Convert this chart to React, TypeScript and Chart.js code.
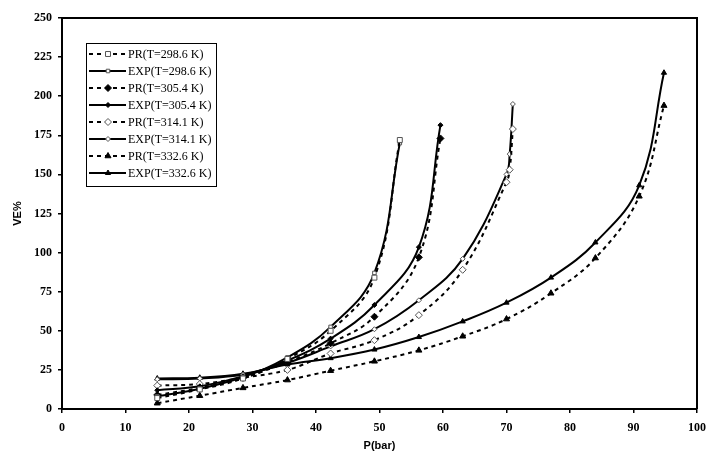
import { useEffect, useRef } from "react"
import { Chart, registerables } from "chart.js"
import { drawPoint } from "chart.js/helpers"

Chart.register(...registerables)

// pressures (bar) and VE% per temperature
const P_298 = [15, 21.7, 28.5, 35.5, 42.3, 49.2, 53.2]
const PR_298 = [7, 12.5, 19.5, 32, 50, 84, 172]
const EXP_298 = [8, 13, 20.5, 33, 52.5, 87, 170]

const P_305 = [15, 21.7, 28.5, 35.5, 42.3, 49.2, 56.2, 59.6]
const PR_305 = [9, 13.5, 20, 30, 42, 59, 97, 173]
const EXP_305 = [12, 14.5, 21, 31, 45, 66.5, 103.5, 181.5]

const P_314 = [15, 21.7, 28.5, 35.5, 42.3, 49.2, 56.2, 63.1, 70.0, 70.5, 71.0]
const PR_314 = [15, 16, 20, 25, 35.5, 44, 60, 89, 145, 153, 179]
const EXP_314 = [19, 19.5, 22, 29.5, 40, 51, 69.5, 96, 150, 163, 195]

const P_332 = [15, 21.7, 28.5, 35.5, 42.3, 49.2, 56.2, 63.1, 70.0, 77.0, 84.0, 90.9, 94.8]
const PR_332 = [3.7, 8.5, 13.5, 18.5, 24.5, 30.5, 37.5, 46.5, 57.5, 74, 96.5, 136, 194]
const EXP_332 = [19.5, 20, 22.5, 28.5, 32.5, 38, 46, 56, 68, 84, 106.5, 143, 215]

const X_TICKS = [0, 10, 20, 30, 40, 50, 60, 70, 80, 90, 100]
const Y_TICKS = [0, 25, 50, 75, 100, 125, 150, 175, 200, 225, 250]

const SERIF = '"Liberation Serif", "Times New Roman", serif'
const SANS = 'Arial, "Liberation Sans", sans-serif'

const pts = (xs: number[], ys: number[]) => xs.map((x, i) => ({ x, y: ys[i] }))

function series(label: string, xs: number[], ys: number[], dashed: boolean, style: string, filled: boolean, radius: number) {
  return {
    label,
    data: pts(xs, ys),
    borderColor: "#000",
    borderWidth: 2,
    borderDash: dashed ? [4, 4] : [],
    pointStyle: style,
    pointRadius: radius,
    pointBorderWidth: 1,
    pointBackgroundColor: filled ? "#000" : "#fff",
    pointBorderColor: filled ? "#000" : "#555",
    tension: 0.4,
    fill: false,
  }
}

const frame = {
  id: "frame",
  afterDraw(chart: any) {
    const { ctx, chartArea: a } = chart
    ctx.save()
    ctx.strokeStyle = "#000"
    ctx.lineWidth = 2
    ctx.beginPath()
    ctx.moveTo(a.left, a.top)
    ctx.lineTo(a.right, a.top)
    ctx.lineTo(a.right, a.bottom)
    ctx.stroke()
    ctx.restore()
  },
}

const boxLegend = {
  id: "boxLegend",
  afterDraw(chart: any) {
    const ctx = chart.ctx
    ctx.save()
    ctx.fillStyle = "#fff"
    ctx.fillRect(86, 43, 130, 143)
    ctx.strokeStyle = "#000"
    ctx.lineWidth = 1
    ctx.strokeRect(86.5, 43.5, 130, 143)
    chart.data.datasets.forEach((ds: any, i: number) => {
      const y = 54 + i * 17
      ctx.beginPath()
      ctx.setLineDash(ds.borderDash)
      ctx.lineWidth = ds.borderWidth
      ctx.strokeStyle = "#000"
      ctx.moveTo(89, y)
      ctx.lineTo(126, y)
      ctx.stroke()
      ctx.setLineDash([])
      ctx.fillStyle = ds.pointBackgroundColor
      ctx.strokeStyle = ds.pointBorderColor
      ctx.lineWidth = 1
      drawPoint(ctx, { pointStyle: ds.pointStyle, radius: ds.pointRadius, rotation: 0, borderWidth: 1 }, 108, y)
      ctx.fillStyle = "#000"
      ctx.font = "12px " + SERIF
      ctx.textBaseline = "middle"
      ctx.textAlign = "left"
      ctx.fillText(ds.label, 128, y + 1)
    })
    ctx.restore()
  },
}

export default function App() {
  const canvasRef = useRef<HTMLCanvasElement>(null)
  const chartRef = useRef<Chart | null>(null)

  useEffect(() => {
    if (!canvasRef.current) return
    if (chartRef.current) chartRef.current.destroy()

    chartRef.current = new Chart(canvasRef.current, {
      type: "line",
      data: {
        datasets: [
          series("PR(T=298.6 K)", P_298, PR_298, true, "rect", false, 3.5),
          series("EXP(T=298.6 K)", P_298, EXP_298, false, "rect", false, 2.5),
          series("PR(T=305.4 K)", P_305, PR_305, true, "rectRot", true, 3.5),
          series("EXP(T=305.4 K)", P_305, EXP_305, false, "rectRot", true, 2.5),
          series("PR(T=314.1 K)", P_314, PR_314, true, "rectRot", false, 3.5),
          series("EXP(T=314.1 K)", P_314, EXP_314, false, "rectRot", false, 2.5),
          series("PR(T=332.6 K)", P_332, PR_332, true, "triangle", true, 3.5),
          series("EXP(T=332.6 K)", P_332, EXP_332, false, "triangle", true, 3),
        ] as any,
      },
      options: {
        animation: false,
        responsive: false,
        maintainAspectRatio: false,
        layout: { padding: { top: 18, right: 10, left: 0, bottom: 0 } },
        plugins: {
          legend: { display: false },
          tooltip: { enabled: false },
        },
        scales: {
          x: {
            type: "linear",
            min: 0,
            max: 100,
            afterBuildTicks: (s: any) => {
              s.ticks = X_TICKS.map((v) => ({ value: v }))
            },
            afterFit: (s: any) => {
              s.height = 47
              s.paddingLeft = 0
              s.paddingRight = 0
            },
            grid: { drawOnChartArea: false, drawTicks: true, tickLength: 4, color: "#000", lineWidth: 1.5 },
            border: { display: true, color: "#000", width: 2 },
            ticks: { color: "#000", padding: 8, maxRotation: 0, autoSkip: false, font: { family: SERIF, size: 12, weight: "bold" } },
            title: {
              display: true,
              text: "P(bar)",
              color: "#000",
              padding: { top: 0, bottom: 3 },
              font: { family: SANS, size: 11, weight: "bold" },
            },
          },
          y: {
            type: "linear",
            min: 0,
            max: 250,
            afterBuildTicks: (s: any) => {
              s.ticks = Y_TICKS.map((v) => ({ value: v }))
            },
            afterFit: (s: any) => {
              s.width = 62
              s.paddingTop = 0
              s.paddingBottom = 0
            },
            grid: { drawOnChartArea: false, drawTicks: true, tickLength: 4, color: "#000", lineWidth: 1.5 },
            border: { display: true, color: "#000", width: 2 },
            ticks: { color: "#000", padding: 6, autoSkip: false, font: { family: SERIF, size: 12, weight: "bold" } },
            title: {
              display: true,
              text: "VE%",
              color: "#000",
              padding: { top: 11, bottom: 0 },
              font: { family: SANS, size: 11, weight: "bold" },
            },
          },
        },
      } as any,
      plugins: [frame, boxLegend],
    })

    return () => {
      if (chartRef.current) {
        chartRef.current.destroy()
        chartRef.current = null
      }
    }
  }, [])

  return (
    <div style={{ position: "fixed", left: 0, top: 0, width: 707, height: 456, background: "#fff" }}>
      <canvas ref={canvasRef} width={707} height={456} style={{ width: 707, height: 456 }} />
    </div>
  )
}
